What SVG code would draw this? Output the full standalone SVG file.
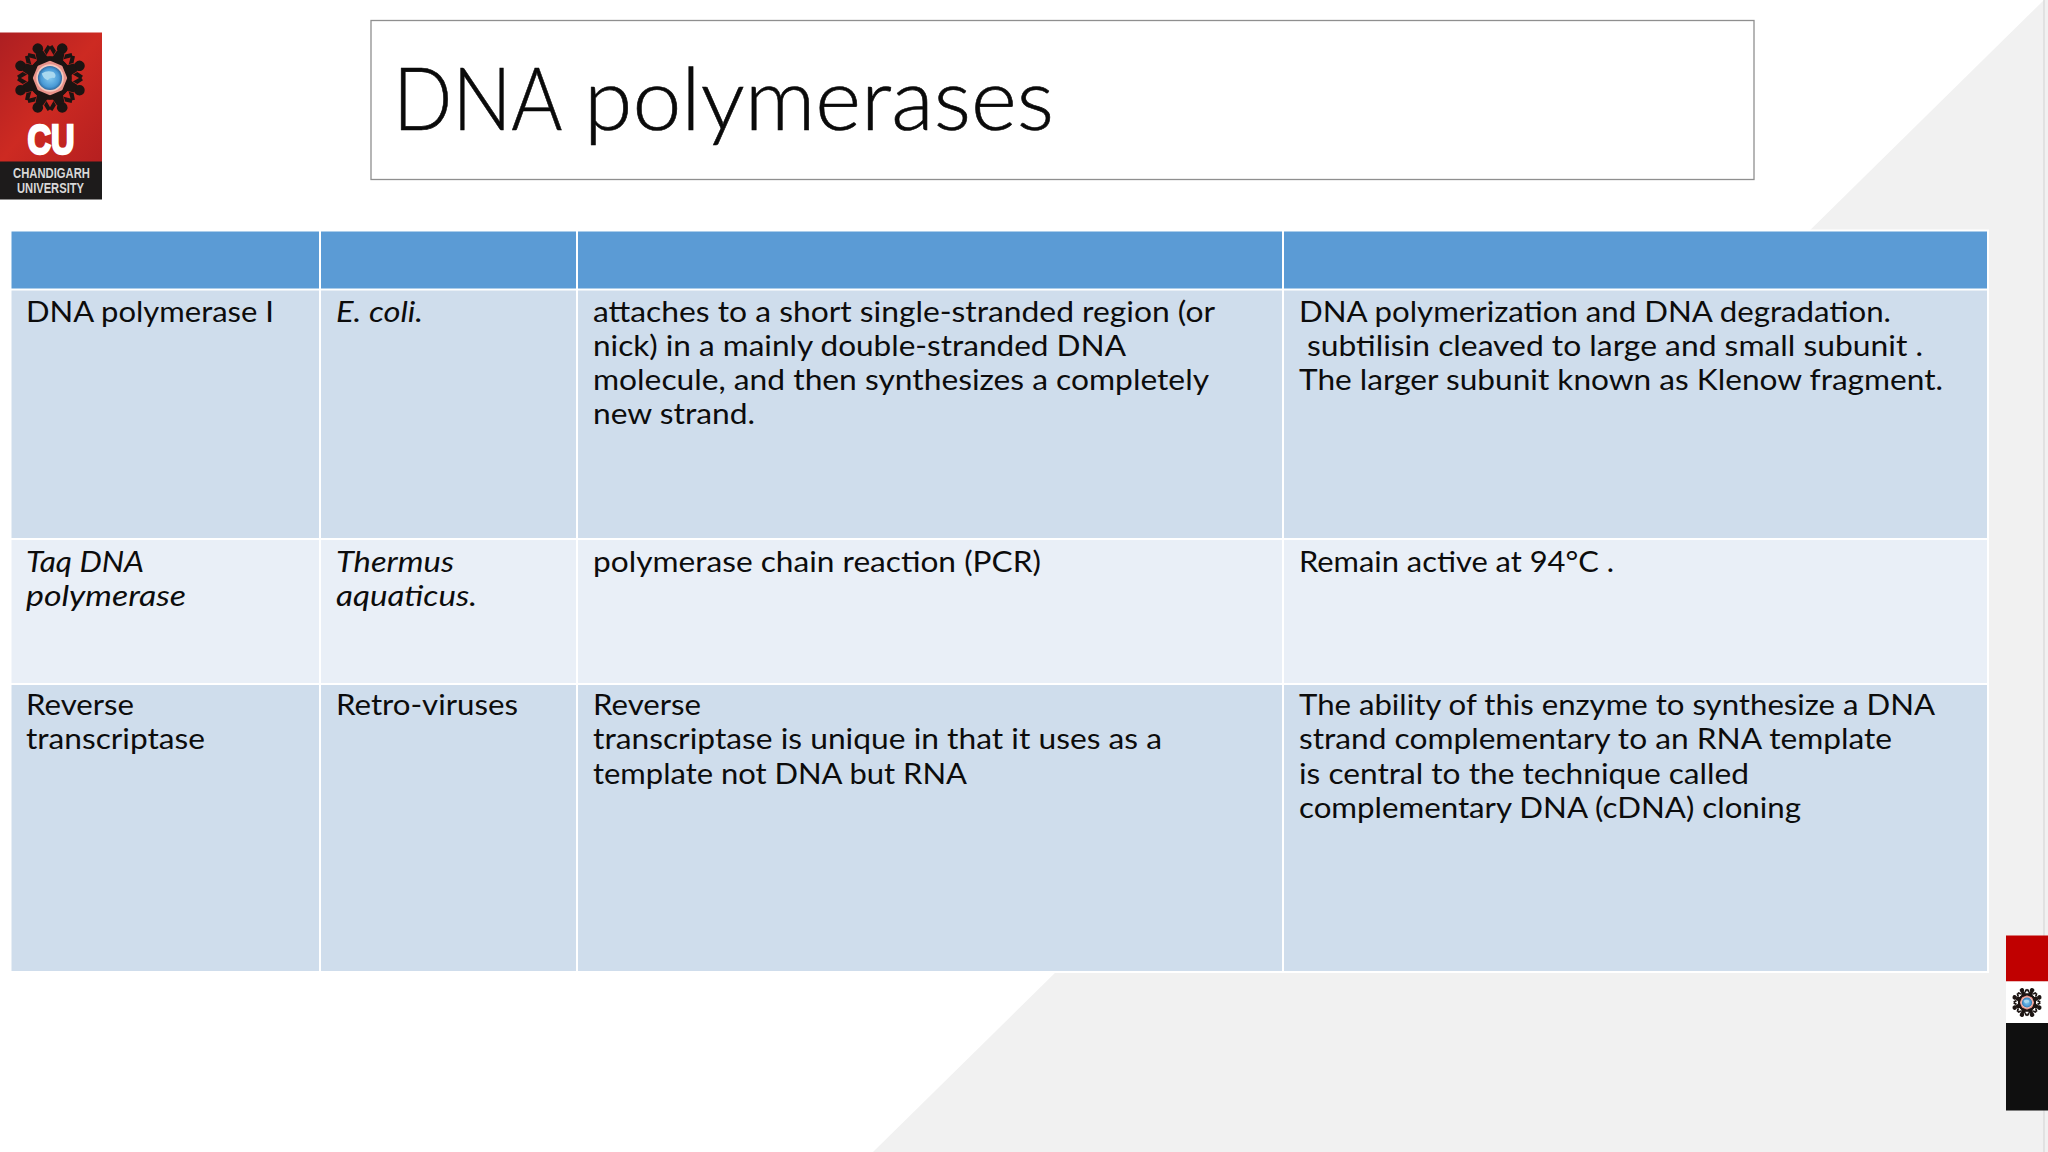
<svg xmlns="http://www.w3.org/2000/svg" xmlns:xlink="http://www.w3.org/1999/xlink" width="2048" height="1152" viewBox="0 0 2048 1152">
<style>
.t{font-family:"Lato","Carlito","Liberation Sans",sans-serif;font-size:28px;fill:#0c0c0c}
.i{font-style:italic}
.hdr{fill:#5b9bd5}.band{fill:#cfddec}.alt{fill:#e9eff7}
</style>
<defs>
<linearGradient id="red" x1="0" y1="0" x2="1" y2="1"><stop offset="0" stop-color="#ad1f22"/><stop offset=".5" stop-color="#cd2a22"/><stop offset="1" stop-color="#b51f20"/></linearGradient>
<radialGradient id="globe"><stop offset="0" stop-color="#85caf0"/><stop offset=".75" stop-color="#4a9ad6"/><stop offset="1" stop-color="#2f6a9f"/></radialGradient>
<g id="person" fill="#1c1412">
<circle cx="0" cy="-29" r="4.8"/>
<path d="M-3.6 -25.5 L3.6 -25.5 L5 -19 L9 -17 L7.5 -14.5 L-7.5 -14.5 L-9 -17 L-5 -19 Z"/>
<path d="M-4.5 -25 L-9.5 -28.5 L-11.5 -25.5 L-5 -20.5 Z M4.5 -25 L9.5 -28.5 L11.5 -25.5 L5 -20.5 Z"/>
</g>
<g id="gear">
<circle r="19" fill="#e8938a"/>
<circle r="18" fill="none" stroke="#1c1412" stroke-width="3.5"/>
<use xlink:href="#person" transform="rotate(22.5)"/><use xlink:href="#person" transform="rotate(67.5)"/>
<use xlink:href="#person" transform="rotate(112.5)"/><use xlink:href="#person" transform="rotate(157.5)"/>
<use xlink:href="#person" transform="rotate(202.5)"/><use xlink:href="#person" transform="rotate(247.5)"/>
<use xlink:href="#person" transform="rotate(292.5)"/><use xlink:href="#person" transform="rotate(337.5)"/>
<circle r="12.5" fill="#f3c9c0"/>
<circle r="11" fill="url(#globe)"/>
<path d="M-7.5 -4 Q-3 -7.5 3 -5.5 Q6.5 -3 4 0 Q0 -1 -2 2 Q-6 1 -7.5 -4 Z" fill="#a9d8ef"/>
</g>
</defs>
<rect id="bg" width="2048" height="1152" fill="#ffffff"/>
<path id="bg-wedge" d="M2044 0 L2048 0 L2048 1152 L873 1152 Z" fill="#f1f1f1"/>
<path id="bg-line" d="M2044 0 V1152" stroke="#d8d8d8" stroke-width="1.2" fill="none"/>

<g id="logo">
<rect x="0" y="32.5" width="102" height="130" fill="url(#red)"/>
<rect x="0" y="161.5" width="102" height="38" fill="#1d1b1b"/>
<use xlink:href="#gear" transform="translate(50 78) scale(1.1)"/>
<text x="27.5" y="154" font-family="'Liberation Sans',sans-serif" font-weight="700" font-size="43" fill="#fff" stroke="#fff" stroke-width="2.6" textLength="47" lengthAdjust="spacingAndGlyphs">CU</text>
<text x="13" y="178" font-family="'Liberation Sans',sans-serif" font-weight="700" font-size="14" fill="#d8d8d8" textLength="77" lengthAdjust="spacingAndGlyphs">CHANDIGARH</text>
<text x="17" y="192.5" font-family="'Liberation Sans',sans-serif" font-weight="700" font-size="14" fill="#d8d8d8" textLength="67" lengthAdjust="spacingAndGlyphs">UNIVERSITY</text>
</g>

<g id="title">
<rect x="371" y="20.5" width="1383" height="159" fill="#ffffff" stroke="#8f8f8f" stroke-width="1.3"/>
<text y="130" font-family="'Lato','Carlito',sans-serif" font-weight="300" font-size="86" fill="#0a0a0a" stroke="#0a0a0a" stroke-width=".6"><tspan x="393" textLength="167" lengthAdjust="spacingAndGlyphs">DNA</tspan> <tspan x="584" textLength="470" lengthAdjust="spacingAndGlyphs">polymerases</tspan></text>
</g>

<g id="table">
<rect x="10" y="229.5" width="1979" height="743.5" fill="#ffffff"/>
<g id="header-row">
<rect class="hdr" x="11.5" y="231.5" width="307.5" height="57"/>
<rect class="hdr" x="321" y="231.5" width="255" height="57"/>
<rect class="hdr" x="578" y="231.5" width="704" height="57"/>
<rect class="hdr" x="1284" y="231.5" width="703" height="57"/>
</g>
<g id="row-1">
<rect class="band" x="11.5" y="290.5" width="307.5" height="247.5"/>
<rect class="band" x="321" y="290.5" width="255" height="247.5"/>
<rect class="band" x="578" y="290.5" width="704" height="247.5"/>
<rect class="band" x="1284" y="290.5" width="703" height="247.5"/>
<text class="t" x="26" y="321.5" textLength="248" lengthAdjust="spacingAndGlyphs">DNA polymerase I</text>
<text class="t i" x="336" y="321.5" textLength="87" lengthAdjust="spacingAndGlyphs">E. coli.</text>
<text class="t" x="593" y="321.5" textLength="622" lengthAdjust="spacingAndGlyphs">attaches to a short single-stranded region (or</text>
<text class="t" x="593" y="355.8" textLength="533" lengthAdjust="spacingAndGlyphs">nick) in a mainly double-stranded DNA</text>
<text class="t" x="593" y="390" textLength="616" lengthAdjust="spacingAndGlyphs">molecule, and then synthesizes a completely</text>
<text class="t" x="593" y="424.2" textLength="162" lengthAdjust="spacingAndGlyphs">new strand.</text>
<text class="t" x="1299" y="321.5" textLength="592" lengthAdjust="spacingAndGlyphs">DNA polymerization and DNA degradation.</text>
<text class="t" x="1307" y="355.8" textLength="616" lengthAdjust="spacingAndGlyphs">subtilisin cleaved to large and small subunit .</text>
<text class="t" x="1299" y="390" textLength="644" lengthAdjust="spacingAndGlyphs">The larger subunit known as Klenow fragment.</text>
</g>
<g id="row-2">
<rect class="alt" x="11.5" y="540" width="307.5" height="143"/>
<rect class="alt" x="321" y="540" width="255" height="143"/>
<rect class="alt" x="578" y="540" width="704" height="143"/>
<rect class="alt" x="1284" y="540" width="703" height="143"/>
<text class="t i" x="26" y="571.5" textLength="118" lengthAdjust="spacingAndGlyphs">Taq DNA</text>
<text class="t i" x="26" y="605.8" textLength="160" lengthAdjust="spacingAndGlyphs">polymerase</text>
<text class="t i" x="336" y="571.5" textLength="118" lengthAdjust="spacingAndGlyphs">Thermus</text>
<text class="t i" x="336" y="605.8" textLength="141" lengthAdjust="spacingAndGlyphs">aquaticus.</text>
<text class="t" x="593" y="571.5" textLength="448" lengthAdjust="spacingAndGlyphs">polymerase chain reaction (PCR)</text>
<text class="t" x="1299" y="571.5" textLength="315" lengthAdjust="spacingAndGlyphs">Remain active at 94°C .</text>
</g>
<g id="row-3">
<rect class="band" x="11.5" y="685" width="307.5" height="286"/>
<rect class="band" x="321" y="685" width="255" height="286"/>
<rect class="band" x="578" y="685" width="704" height="286"/>
<rect class="band" x="1284" y="685" width="703" height="286"/>
<text class="t" x="26" y="715" textLength="108" lengthAdjust="spacingAndGlyphs">Reverse</text>
<text class="t" x="26" y="749.3" textLength="179" lengthAdjust="spacingAndGlyphs">transcriptase</text>
<text class="t" x="336" y="715" textLength="182" lengthAdjust="spacingAndGlyphs">Retro-viruses</text>
<text class="t" x="593" y="715" textLength="108" lengthAdjust="spacingAndGlyphs">Reverse</text>
<text class="t" x="593" y="749.3" textLength="569" lengthAdjust="spacingAndGlyphs">transcriptase is unique in that it uses as a</text>
<text class="t" x="593" y="783.6" textLength="374" lengthAdjust="spacingAndGlyphs">template not DNA but RNA</text>
<text class="t" x="1299" y="715" textLength="636" lengthAdjust="spacingAndGlyphs">The ability of this enzyme to synthesize a DNA</text>
<text class="t" x="1299" y="749.3" textLength="593" lengthAdjust="spacingAndGlyphs">strand complementary to an RNA template</text>
<text class="t" x="1299" y="783.6" textLength="450" lengthAdjust="spacingAndGlyphs">is central to the technique called</text>
<text class="t" x="1299" y="817.9" textLength="502" lengthAdjust="spacingAndGlyphs">complementary DNA (cDNA) cloning</text>
</g>
</g>

<g id="side-badge">
<rect x="2006" y="935.5" width="42" height="46" fill="#c00000"/>
<rect x="2006" y="981.5" width="42" height="41.5" fill="#ffffff"/>
<rect x="2006" y="1023" width="42" height="87.5" fill="#0f0f0f"/>
<use xlink:href="#gear" transform="translate(2027 1002.5) scale(.46)"/>
</g>
</svg>
